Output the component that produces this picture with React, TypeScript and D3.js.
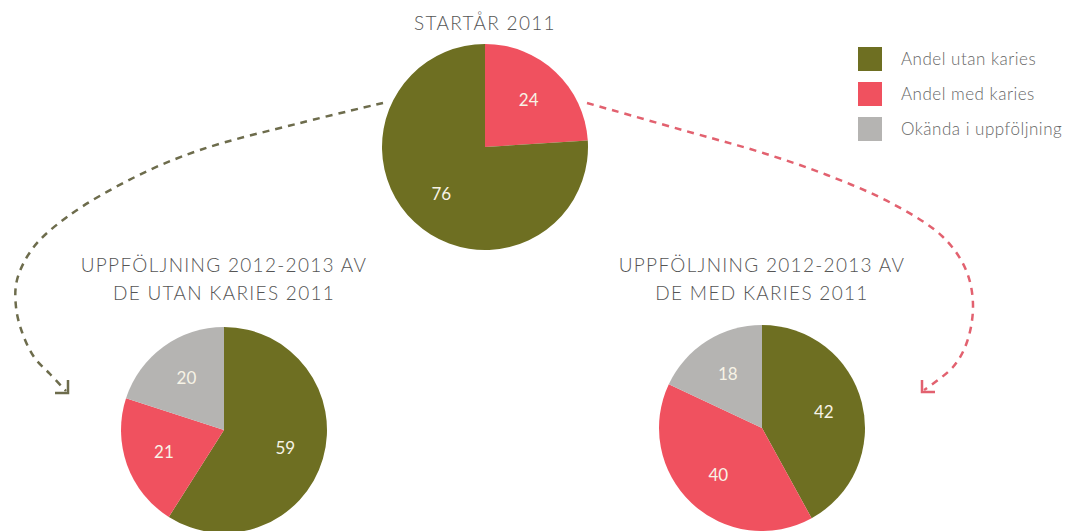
import React, { useEffect, useRef } from "react";
import * as d3 from "d3";

const categories = ["Andel utan karies", "Andel med karies", "Okända i uppföljning"];
const categoryKeys = ["utan", "med", "okand"];

// start year pie (drawn clockwise from 12 o'clock in this order)
const startKeys = ["med", "utan"];
const startValues = [24, 76];

// follow-up of those without caries in 2011
const utanKeys = ["utan", "med", "okand"];
const utanValues = [59, 21, 20];

// follow-up of those with caries in 2011
const medKeys = ["utan", "med", "okand"];
const medValues = [42, 40, 18];

const titles = [
  ["STARTÅR 2011"],
  ["UPPFÖLJNING 2012-2013 AV", "DE UTAN KARIES 2011"],
  ["UPPFÖLJNING 2012-2013 AV", "DE MED KARIES 2011"],
];

export default function App() {
  const ref = useRef<SVGSVGElement>(null);

  useEffect(() => {
    const width = 1076,
      height = 531;
    const svg = d3.select(ref.current);
    svg.selectAll("*").remove();
    svg.attr("width", width).attr("height", height);

    const color = d3
      .scaleOrdinal<string, string>()
      .domain(categoryKeys)
      .range(["#6e6f22", "#f0515f", "#b5b4b2"]);

    const font = "Lato, 'Open Sans', sans-serif";
    const r = 103;
    const arc = d3.arc<any>().innerRadius(0).outerRadius(r);
    const labelArc = d3.arc<any>().innerRadius(r * 0.62).outerRadius(r * 0.62);
    const pie = d3
      .pie<{ key: string; value: number }>()
      .sort(null)
      .value((d) => d.value);

    const pies = [
      { cx: 485, cy: 147, keys: startKeys, values: startValues, title: titles[0], ty: 30 },
      { cx: 224, cy: 430, keys: utanKeys, values: utanValues, title: titles[1], ty: 272 },
      { cx: 762, cy: 428, keys: medKeys, values: medValues, title: titles[2], ty: 272 },
    ];

    pies.forEach((p) => {
      const data = p.keys.map((k, i) => ({ key: k, value: p.values[i] }));
      const g = svg.append("g").attr("transform", `translate(${p.cx},${p.cy})`);
      const arcs = pie(data);
      g.selectAll("path")
        .data(arcs)
        .enter()
        .append("path")
        .attr("d", arc)
        .attr("fill", (d) => color(d.data.key));
      g.selectAll("text")
        .data(arcs)
        .enter()
        .append("text")
        .attr("transform", (d) => `translate(${labelArc.centroid(d)})`)
        .attr("text-anchor", "middle")
        .attr("dy", "0.35em")
        .attr("font-family", font)
        .attr("font-size", 17)
        .attr("fill", "#f7f3e6")
        .text((d) => d.data.value);

      svg
        .append("text")
        .attr("x", p.cx)
        .attr("y", p.ty)
        .attr("text-anchor", "middle")
        .attr("font-family", font)
        .attr("font-weight", 300)
        .attr("font-size", 19)
        .attr("letter-spacing", 1.3)
        .attr("fill", "#555")
        .selectAll("tspan")
        .data(p.title)
        .enter()
        .append("tspan")
        .attr("x", p.cx)
        .attr("dy", (d, i) => (i === 0 ? 0 : 28))
        .text((d) => d);
    });

    // dashed arrows from the start pie down to the follow-up pies
    const curve = d3.line().curve(d3.curveCatmullRom.alpha(0.5));
    const top = pies[0];
    const leftPts: [number, number][] = [
      [top.cx - r + 1, 103],
      [300, 123],
      [200, 150],
      [133, 178],
      [67, 217],
      [33, 248],
      [17, 280],
      [16, 307],
      [22, 332],
      [34, 357],
      [50, 374],
      [66, 391],
    ];
    const rightPts: [number, number][] = [
      [top.cx + r - 1, 103],
      [693, 133],
      [760, 152],
      [827, 175],
      [893, 204],
      [943, 237],
      [966, 270],
      [973, 305],
      [967, 342],
      [953, 367],
      [924, 390],
    ];
    const arrows = [
      { pts: leftPts, stroke: "#6d6c4c", head: [[55, 393], [68, 393], [68, 380]] },
      { pts: rightPts, stroke: "#e2616f", head: [[922, 380], [922, 392], [935, 392]] },
    ];
    arrows.forEach((a) => {
      svg
        .append("path")
        .attr("d", curve(a.pts))
        .attr("fill", "none")
        .attr("stroke", a.stroke)
        .attr("stroke-width", 2.5)
        .attr("stroke-dasharray", "7,6");
      svg
        .append("path")
        .attr("d", d3.line()(a.head as [number, number][]))
        .attr("fill", "none")
        .attr("stroke", a.stroke)
        .attr("stroke-width", 2.5);
    });

    // legend
    const legend = svg
      .append("g")
      .selectAll("g")
      .data(categories)
      .enter()
      .append("g")
      .attr("transform", (d, i) => `translate(858,${47 + i * 35})`);
    legend
      .append("rect")
      .attr("width", 24)
      .attr("height", 24)
      .attr("fill", (d, i) => color(categoryKeys[i]));
    legend
      .append("text")
      .attr("x", 43)
      .attr("y", 12)
      .attr("dy", "0.35em")
      .attr("font-family", font)
      .attr("font-weight", 300)
      .attr("font-size", 17)
      .attr("letter-spacing", 0.5)
      .attr("fill", "#666")
      .text((d) => d);
  }, []);

  return (
    <svg
      ref={ref}
      style={{ position: "absolute", left: 0, top: 0, background: "#fff" }}
    ></svg>
  );
}
